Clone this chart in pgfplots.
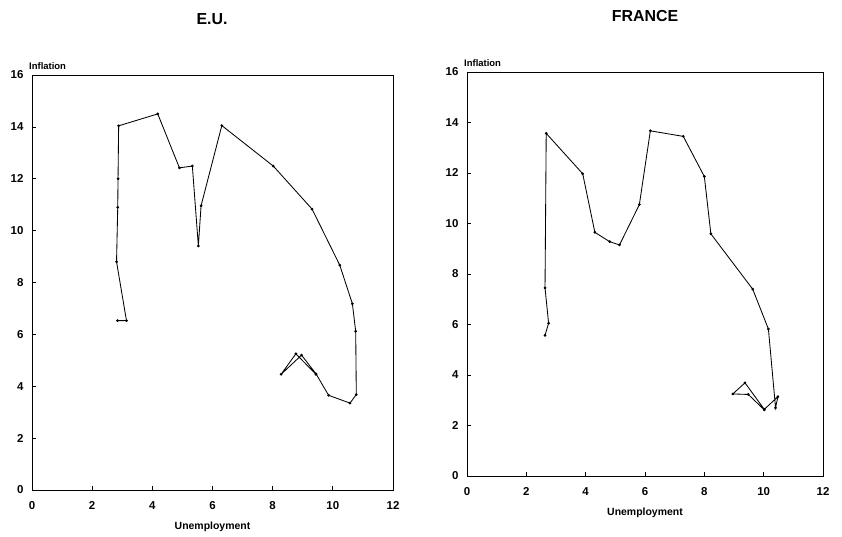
\documentclass[border=0pt]{standalone}
\usepackage{fontspec}
\setmainfont{Liberation Sans}
\usepackage{pgfplots}
\pgfplotsset{compat=1.18}
\begin{document}
\begin{tikzpicture}
\path (0bp,0bp) rectangle (842bp,537bp);
\pgfplotsset{myax/.style={
  scale only axis,
  xmin=0, xmax=12, ymin=0, ymax=16,
  xtick={0,2,...,12}, ytick={0,2,...,16},
  tick align=inside, xtick pos=bottom, ytick pos=left,
  major tick length=4bp,
  axis line style={line width=0.9pt},
  every tick/.style={black, line width=0.7pt},
  /pgf/number format/assume math mode=true,
  tick label style={font=\bfseries\fontsize{11.5}{13}\selectfont},
  xticklabel style={yshift=-8bp},
  yticklabel style={xshift=-5bp},
  xlabel={Unemployment},
  xlabel style={font=\bfseries\fontsize{10.5}{12}\selectfont, at={(rel axis cs:0.5,0)}, anchor=center, yshift=-37bp},
  ylabel={Inflation},
  ylabel style={font=\bfseries\fontsize{9.5}{11}\selectfont, rotate=-90, at={(rel axis cs:0,1)}, anchor=south west, inner sep=0pt, yshift=5bp, xshift=-3bp},
  clip=false,
}}
\begin{axis}[myax, at={(32bp,47bp)}, anchor=south west, width=361bp, height=415bp]
\addplot[black, line width=0.85pt, mark=*, mark size=0.9pt] coordinates {
(2.84,6.53) (3.14,6.53) (2.81,8.80) (2.85,10.9) (2.86,12.0) (2.88,14.04)
(4.18,14.5) (4.90,12.42) (5.33,12.49) (5.53,9.41) (5.62,10.96) (6.31,14.05)
(8.02,12.49) (9.31,10.83) (10.23,8.67) (10.65,7.18) (10.76,6.12) (10.78,3.68)
(10.57,3.35) (9.86,3.65) (9.44,4.48) (8.96,5.20) (8.28,4.46) (8.77,5.25) (9.44,4.46)
};
\end{axis}
\begin{axis}[myax, at={(467bp,61bp)}, anchor=south west, width=356bp, height=404bp]
\addplot[black, line width=0.85pt, mark=*, mark size=0.9pt] coordinates {
(2.63,5.57) (2.75,6.05) (2.63,7.45) (2.67,13.57) (3.90,11.97) (4.31,9.65)
(4.81,9.28) (5.14,9.15) (5.81,10.75) (6.18,13.67) (7.29,13.45) (8.00,11.86)
(8.22,9.59) (9.63,7.40) (10.16,5.82) (10.40,2.70) (10.48,3.14) (10.02,2.64)
(9.37,3.69) (8.96,3.25) (9.48,3.23) (10.02,2.62)
};
\end{axis}
\node[font=\bfseries\fontsize{16}{18}\selectfont] at (212bp,518bp) {E.U.};
\node[font=\bfseries\fontsize{16}{18}\selectfont] at (645bp,521bp) {FRANCE};
\end{tikzpicture}
\end{document}
